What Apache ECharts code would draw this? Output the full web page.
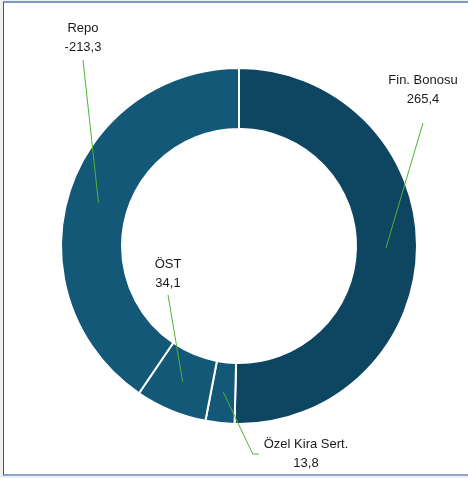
<!DOCTYPE html>
<html>
<head>
<meta charset="utf-8">
<script src="https://cdn.jsdelivr.net/npm/echarts@6/dist/echarts.min.js"></script>
<style>
  html, body { margin: 0; padding: 0; background: #efefef; }
  #wrap { position: relative; width: 468px; height: 478px; overflow: hidden; background: #efefef; }
  #frame {
    position: absolute; left: 3px; top: 1px; width: 470px; height: 471px;
    background: #fff;
    border-left: 1px solid #2d5b8c;
    border-top: 2px solid #7d9cc5;
    border-bottom: 2px solid #8ca7c9;
  }
  #main { position: absolute; left: 0; top: 0; width: 468px; height: 478px; }
</style>
</head>
<body>
<div id="wrap">
  <div id="frame"></div>
  <div id="main"></div>
</div>
<script>
// dilim adlari ve degerleri (saat yonunde, tepeden baslayarak)
var names = ["Fin. Bonosu", "Özel Kira Sert.", "ÖST", "Repo"];
var values = [265.4, 13.8, 34.1, -213.3];
var colors = ["#0e4661", "#135877", "#135877", "#135877"];

// etiket yerlesimi: merkez noktasi ve cizgi ucu
var labelPos = {
  "Fin. Bonosu": { x: 423, y: 90, end: "bottom", gap: 14 },
  "Özel Kira Sert.": { x: 306, y: 454, end: "left" },
  "ÖST": { x: 168, y: 274, end: "bottom", gap: 2 },
  "Repo": { x: 83, y: 38, end: "bottom", gap: 3 }
};

function fmt(v) {
  return v.toFixed(1).replace(".", ",");
}

var pieData = [];
for (var i = 0; i < names.length; i++) {
  pieData.push({
    name: names[i],
    value: Math.abs(values[i]),
    itemStyle: { color: colors[i] }
  });
}

var myChart = echarts.init(document.getElementById("main"), null, { renderer: "canvas" });

var option = {
  animation: false,
  backgroundColor: "transparent",
  series: [
    {
      type: "pie",
      center: [239, 246],
      radius: [117, 178],
      startAngle: 90,
      clockwise: true,
      silent: true,
      data: pieData,
      itemStyle: { borderColor: "#fff", borderWidth: 2 },
      label: { show: false },
      labelLine: { show: false }
    },
    {
      // gorunmez pasta: etiket cizgileri halkanin ortasindan baslasin
      type: "pie",
      center: [239, 246],
      radius: [0, 147],
      startAngle: 90,
      clockwise: true,
      silent: true,
      z: 5,
      avoidLabelOverlap: false,
      data: pieData.map(function (d) {
        return { name: d.name, value: d.value, itemStyle: { color: "rgba(0,0,0,0)" } };
      }),
      itemStyle: { borderWidth: 0 },
      label: {
        show: true,
        position: "outside",
        color: "#1a1a1a",
        fontSize: 13,
        lineHeight: 19,
        fontFamily: "Liberation Sans, Arial, sans-serif",
        align: "center",
        formatter: function (p) {
          return p.name + "\n" + fmt(values[p.dataIndex]);
        }
      },
      labelLine: {
        show: true,
        length: 10,
        length2: 5,
        lineStyle: { color: "#4fb334", width: 1 }
      },
      labelLayout: function (params) {
        var name = names[params.dataIndex];
        var lp = labelPos[name];
        var w = params.labelRect.width;
        var h = params.labelRect.height;
        var anchor = params.labelLinePoints ? params.labelLinePoints[0] : null;
        var pts;
        if (lp.end === "left") {
          var lx = lp.x - w / 2;
          pts = [anchor, [lx - 11, lp.y], [lx - 5, lp.y]];
        } else {
          pts = [anchor, [lp.x, lp.y + h / 2 + lp.gap]];
        }
        var res = {
          x: lp.x,
          y: lp.y,
          align: "center",
          verticalAlign: "middle"
        };
        if (anchor) res.labelLinePoints = pts;
        return res;
      }
    }
  ]
};

myChart.setOption(option, true);
</script>
</body>
</html>
